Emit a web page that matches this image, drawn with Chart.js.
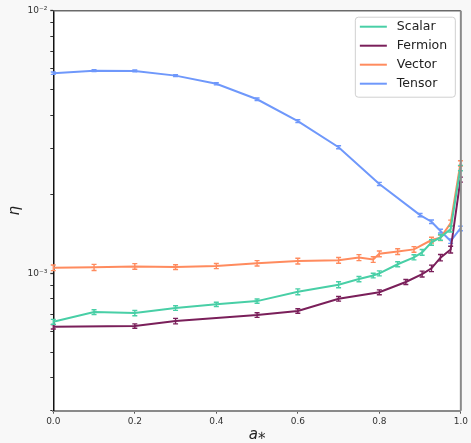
<!DOCTYPE html>
<html>
<head>
<meta charset="utf-8">
<script src="https://cdn.jsdelivr.net/npm/chart.js@4.4.1/dist/chart.umd.min.js"></script>
<style>
  html, body { margin: 0; padding: 0; background: #f8f8f8; }
  canvas { display: block; }
</style>
</head>
<body>
<canvas id="c" width="471" height="443"></canvas>
<script>
// Spin parameter grids for each field
const xScalar  = [0, 0.1, 0.2, 0.3, 0.4, 0.5, 0.6, 0.7, 0.75, 0.785, 0.8, 0.845, 0.885, 0.905, 0.928, 0.95, 0.975, 0.999];
const xFermion = [0, 0.2, 0.3, 0.5, 0.6, 0.7, 0.8, 0.865, 0.905, 0.928, 0.95, 0.975, 0.999];
const xVector  = [0, 0.1, 0.2, 0.3, 0.4, 0.5, 0.6, 0.7, 0.75, 0.785, 0.8, 0.845, 0.885, 0.928, 0.95, 0.975, 0.999];
const xTensor  = [0, 0.1, 0.2, 0.3, 0.4, 0.5, 0.6, 0.7, 0.8, 0.9, 0.928, 0.95, 0.975, 0.999];

// Efficiency eta and its uncertainty
const etaScalar  = [6.54e-4, 7.12e-4, 7.06e-4, 7.38e-4, 7.62e-4, 7.84e-4, 8.51e-4, 9.05e-4, 9.51e-4, 9.81e-4, 1.0e-3, 1.083e-3, 1.151e-3, 1.202e-3, 1.312e-3, 1.371e-3, 1.475e-3, 2.518e-3];
const errScalar  = [1.4e-5, 1.5e-5, 1.6e-5, 1.5e-5, 1.4e-5, 1.5e-5, 2.2e-5, 2.4e-5, 2.2e-5, 2.0e-5, 2.2e-5, 2.4e-5, 2.6e-5, 3.0e-5, 3.2e-5, 3.4e-5, 3.8e-5, 6.0e-5];

const etaFermion = [6.26e-4, 6.30e-4, 6.58e-4, 6.94e-4, 7.19e-4, 8.00e-4, 8.47e-4, 9.27e-4, 9.94e-4, 1.045e-3, 1.148e-3, 1.232e-3, 2.275e-3];
const errFermion = [1.2e-5, 1.2e-5, 1.6e-5, 1.4e-5, 1.4e-5, 1.6e-5, 1.8e-5, 2.0e-5, 2.6e-5, 3.0e-5, 3.2e-5, 3.6e-5, 5.0e-5];

const etaVector  = [1.05e-3, 1.054e-3, 1.063e-3, 1.057e-3, 1.066e-3, 1.092e-3, 1.114e-3, 1.121e-3, 1.148e-3, 1.129e-3, 1.187e-3, 1.21e-3, 1.234e-3, 1.339e-3, 1.366e-3, 1.554e-3, 2.624e-3];
const errVector  = [2.6e-5, 2.8e-5, 2.6e-5, 2.2e-5, 2.4e-5, 2.6e-5, 2.8e-5, 2.8e-5, 3.0e-5, 2.8e-5, 3.0e-5, 3.0e-5, 3.0e-5, 3.4e-5, 3.4e-5, 4.0e-5, 6.0e-5];

const etaTensor  = [5.78e-3, 5.91e-3, 5.90e-3, 5.66e-3, 5.27e-3, 4.60e-3, 3.80e-3, 3.02e-3, 2.19e-3, 1.667e-3, 1.572e-3, 1.449e-3, 1.327e-3, 1.483e-3];
const errTensor  = [6.0e-5, 5.0e-5, 5.0e-5, 5.0e-5, 5.0e-5, 5.0e-5, 4.5e-5, 4.0e-5, 3.0e-5, 2.4e-5, 2.4e-5, 2.4e-5, 2.6e-5, 3.0e-5];

const seriesNames = ['Scalar', 'Fermion', 'Vector', 'Tensor'];
const seriesColors = ['#48cfa6', '#7a1f5a', '#ff8b5e', '#6f98fb'];

const xTickValues = [0, 0.2, 0.4, 0.6, 0.8, 1.0];
const yMajorTicks = [1e-3, 1e-2];
const yMajorLabels = ['10\u207B\u00B3', '10\u207B\u00B2'];
const yMinorTicks = [3e-4, 4e-4, 5e-4, 6e-4, 7e-4, 8e-4, 9e-4, 2e-3, 3e-3, 4e-3, 5e-3, 6e-3, 7e-3, 8e-3, 9e-3];

Chart.defaults.font.family = "'DejaVu Sans', sans-serif";
Chart.defaults.color = '#333';

function pts(xs, ys, es) {
  return xs.map((x, i) => ({ x: x, y: ys[i], e: es[i] }));
}

const seriesData = [
  pts(xScalar, etaScalar, errScalar),
  pts(xFermion, etaFermion, errFermion),
  pts(xVector, etaVector, errVector),
  pts(xTensor, etaTensor, errTensor)
];

// Figure and axes backgrounds, plus top/right frame lines
const framePlugin = {
  id: 'frame',
  beforeDraw(chart) {
    const { ctx, chartArea: a } = chart;
    ctx.save();
    ctx.fillStyle = '#f8f8f8';
    ctx.fillRect(0, 0, chart.width, chart.height);
    ctx.fillStyle = '#ffffff';
    ctx.fillRect(a.left, a.top, a.right - a.left, a.bottom - a.top);
    ctx.restore();
  },
  afterDraw(chart) {
    const { ctx, chartArea: a } = chart;
    ctx.save();
    ctx.strokeStyle = '#6a6a6a';
    ctx.lineWidth = 1.5;
    ctx.beginPath();
    ctx.moveTo(a.left, a.top);
    ctx.lineTo(a.right, a.top);
    ctx.stroke();
    ctx.strokeStyle = '#8a8a8a';
    ctx.lineWidth = 2;
    ctx.beginPath();
    ctx.moveTo(a.right, a.top);
    ctx.lineTo(a.right, a.bottom);
    ctx.stroke();
    ctx.restore();
  }
};

// Vertical error bars with caps, in the dataset colour
const errorBarPlugin = {
  id: 'errorBars',
  afterDatasetDraw(chart, args) {
    const ds = chart.data.datasets[args.index];
    const xs = chart.scales.x, ys = chart.scales.y;
    const { ctx } = chart;
    ctx.save();
    ctx.strokeStyle = ds.borderColor;
    ctx.lineWidth = 1.4;
    ds.data.forEach(p => {
      const px = xs.getPixelForValue(p.x);
      const y0 = ys.getPixelForValue(p.y - p.e);
      const y1 = ys.getPixelForValue(p.y + p.e);
      ctx.beginPath();
      ctx.moveTo(px, y0); ctx.lineTo(px, y1);
      ctx.moveTo(px - 2.5, y0); ctx.lineTo(px + 2.5, y0);
      ctx.moveTo(px - 2.5, y1); ctx.lineTo(px + 2.5, y1);
      ctx.stroke();
    });
    ctx.restore();
  }
};

// Legend box in the upper right of the axes
const legendBoxPlugin = {
  id: 'legendBox',
  afterDraw(chart) {
    const { ctx, chartArea: a } = chart;
    const boxW = 100, boxH = 80;
    const bx = a.right - 6 - boxW, by = a.top + 6;
    ctx.save();
    ctx.fillStyle = 'rgba(255,255,255,0.85)';
    ctx.strokeStyle = '#d0d0d0';
    ctx.lineWidth = 1;
    ctx.beginPath();
    if (ctx.roundRect) ctx.roundRect(bx + 0.5, by + 0.5, boxW, boxH, 3);
    else ctx.rect(bx + 0.5, by + 0.5, boxW, boxH);
    ctx.fill();
    ctx.stroke();
    ctx.font = "12.5px 'DejaVu Sans'";
    ctx.textBaseline = 'middle';
    ctx.textAlign = 'left';
    chart.data.datasets.forEach((ds, i) => {
      const ry = by + 10 + i * 19;
      ctx.strokeStyle = ds.borderColor;
      ctx.lineWidth = 2;
      ctx.beginPath();
      ctx.moveTo(bx + 5, ry);
      ctx.lineTo(bx + 32, ry);
      ctx.stroke();
      ctx.fillStyle = '#222';
      ctx.fillText(ds.label, bx + 42, ry + 0.5);
    });
    ctx.restore();
  }
};

new Chart(document.getElementById('c'), {
  type: 'line',
  data: {
    datasets: seriesData.map((d, i) => ({
      label: seriesNames[i],
      data: d,
      borderColor: seriesColors[i],
      backgroundColor: seriesColors[i],
      borderWidth: 2,
      pointRadius: 0,
      pointHoverRadius: 0,
      tension: 0,
      fill: false
    }))
  },
  options: {
    responsive: false,
    animation: false,
    events: [],
    parsing: false,
    layout: { padding: { top: 10.7, right: 8, left: 0, bottom: 0 } },
    plugins: {
      legend: { display: false },
      tooltip: { enabled: false }
    },
    scales: {
      x: {
        type: 'linear',
        min: 0,
        max: 1,
        afterFit(s) { s.height = 32.3; },
        afterBuildTicks(s) { s.ticks = xTickValues.map(v => ({ value: v })); },
        ticks: {
          font: { size: 9 },
          color: '#333',
          padding: 3,
          maxRotation: 0,
          callback: v => Number(v).toFixed(1)
        },
        grid: { drawOnChartArea: false, drawTicks: true, tickLength: 3, tickColor: '#555', tickWidth: 1 },
        border: { display: true, color: '#8a8a8a', width: 2 },
        title: {
          display: true,
          text: 'a\u204E',
          font: { size: 15, style: 'italic', lineHeight: 1.0 },
          color: '#222',
          padding: { top: 0, bottom: 0 }
        }
      },
      y: {
        type: 'logarithmic',
        min: 3e-4,
        max: 1e-2,
        afterFit(s) { s.width = 53.3; },
        afterBuildTicks(s) {
          const all = yMinorTicks.concat(yMajorTicks).sort((p, q) => p - q);
          s.ticks = all.map(v => ({ value: v, major: yMajorTicks.includes(v) }));
        },
        ticks: {
          font: { size: 9 },
          color: '#333',
          padding: 3,
          autoSkip: false,
          callback: v => {
            const k = yMajorTicks.findIndex(m => Math.abs(m - v) / m < 1e-6);
            return k >= 0 ? yMajorLabels[k] : '';
          }
        },
        grid: {
          drawOnChartArea: false,
          drawTicks: true,
          tickLength: 3,
          tickColor: '#333',
          tickWidth: ctx => (ctx.tick && ctx.tick.major ? 1.3 : 1)
        },
        border: { display: true, color: '#111', width: 1.5 },
        title: {
          display: true,
          text: '\u03B7',
          font: { size: 15, style: 'italic', lineHeight: 1.0 },
          color: '#222',
          padding: { top: 8, bottom: 0 }
        }
      }
    }
  },
  plugins: [framePlugin, errorBarPlugin, legendBoxPlugin]
});
</script>
</body>
</html>
